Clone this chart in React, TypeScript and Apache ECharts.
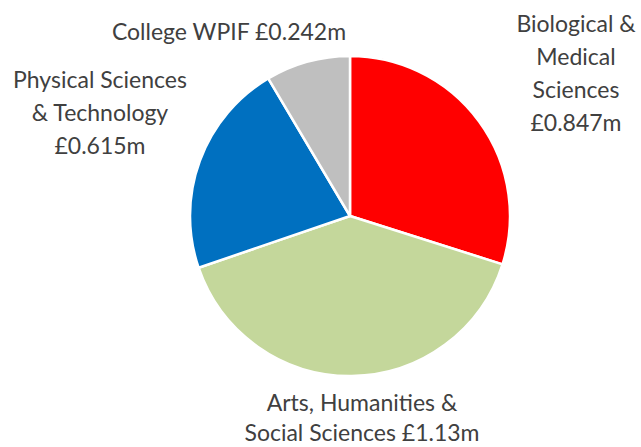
import React, { useEffect, useRef } from "react";
import * as echarts from "echarts";

const categories = [
  "Biological &\nMedical\nSciences",
  "Arts, Humanities &\nSocial Sciences",
  "Physical Sciences\n& Technology",
  "College WPIF",
];
const values = [0.847, 1.13, 0.615, 0.242];
const valueLabels = ["£0.847m", "£1.13m", "£0.615m", "£0.242m"];
const separators = ["\n", " ", "\n", " "];
const colors = ["#FF0000", "#C4D79B", "#0070C0", "#BFBFBF"];

const labelPos = [
  { x: 576, y: 72, lh: 33 },
  { x: 362, y: 417, lh: 30 },
  { x: 100, y: 112, lh: 33 },
  { x: 229, y: 31, lh: 33 },
];

export default function App() {
  const ref = useRef<HTMLDivElement>(null);
  useEffect(() => {
    if (!ref.current) return;
    const chart = echarts.init(ref.current, null, { renderer: "svg" });
    chart.setOption({
      animation: false,
      backgroundColor: "#ffffff",
      series: [
        {
          type: "pie",
          center: [350, 216],
          radius: 160,
          startAngle: 90,
          clockwise: true,
          data: categories.map((name, i) => ({
            name,
            value: values[i],
            itemStyle: { color: colors[i] },
            label: { lineHeight: labelPos[i].lh },
          })),
          itemStyle: { borderColor: "#ffffff", borderWidth: 2.5 },
          label: {
            show: true,
            position: "outside",
            color: "#404040",
            fontFamily: "Lato, 'Open Sans', sans-serif",
            fontSize: 23,
            lineHeight: 33,
            align: "center",
            overflow: "none",
            width: 400,
            formatter: (p: any) =>
              p.name + separators[p.dataIndex] + valueLabels[p.dataIndex],
          },
          labelLine: { show: false },
          labelLayout: (params: any) => ({
            x: labelPos[params.dataIndex].x,
            y: labelPos[params.dataIndex].y,
            align: "center",
            verticalAlign: "middle",
          }),
          emphasis: { disabled: true },
        },
      ],
    });
    return () => chart.dispose();
  }, []);
  return (
    <div
      ref={ref}
      style={{ position: "fixed", left: 0, top: 0, width: 641, height: 447 }}
    />
  );
}
